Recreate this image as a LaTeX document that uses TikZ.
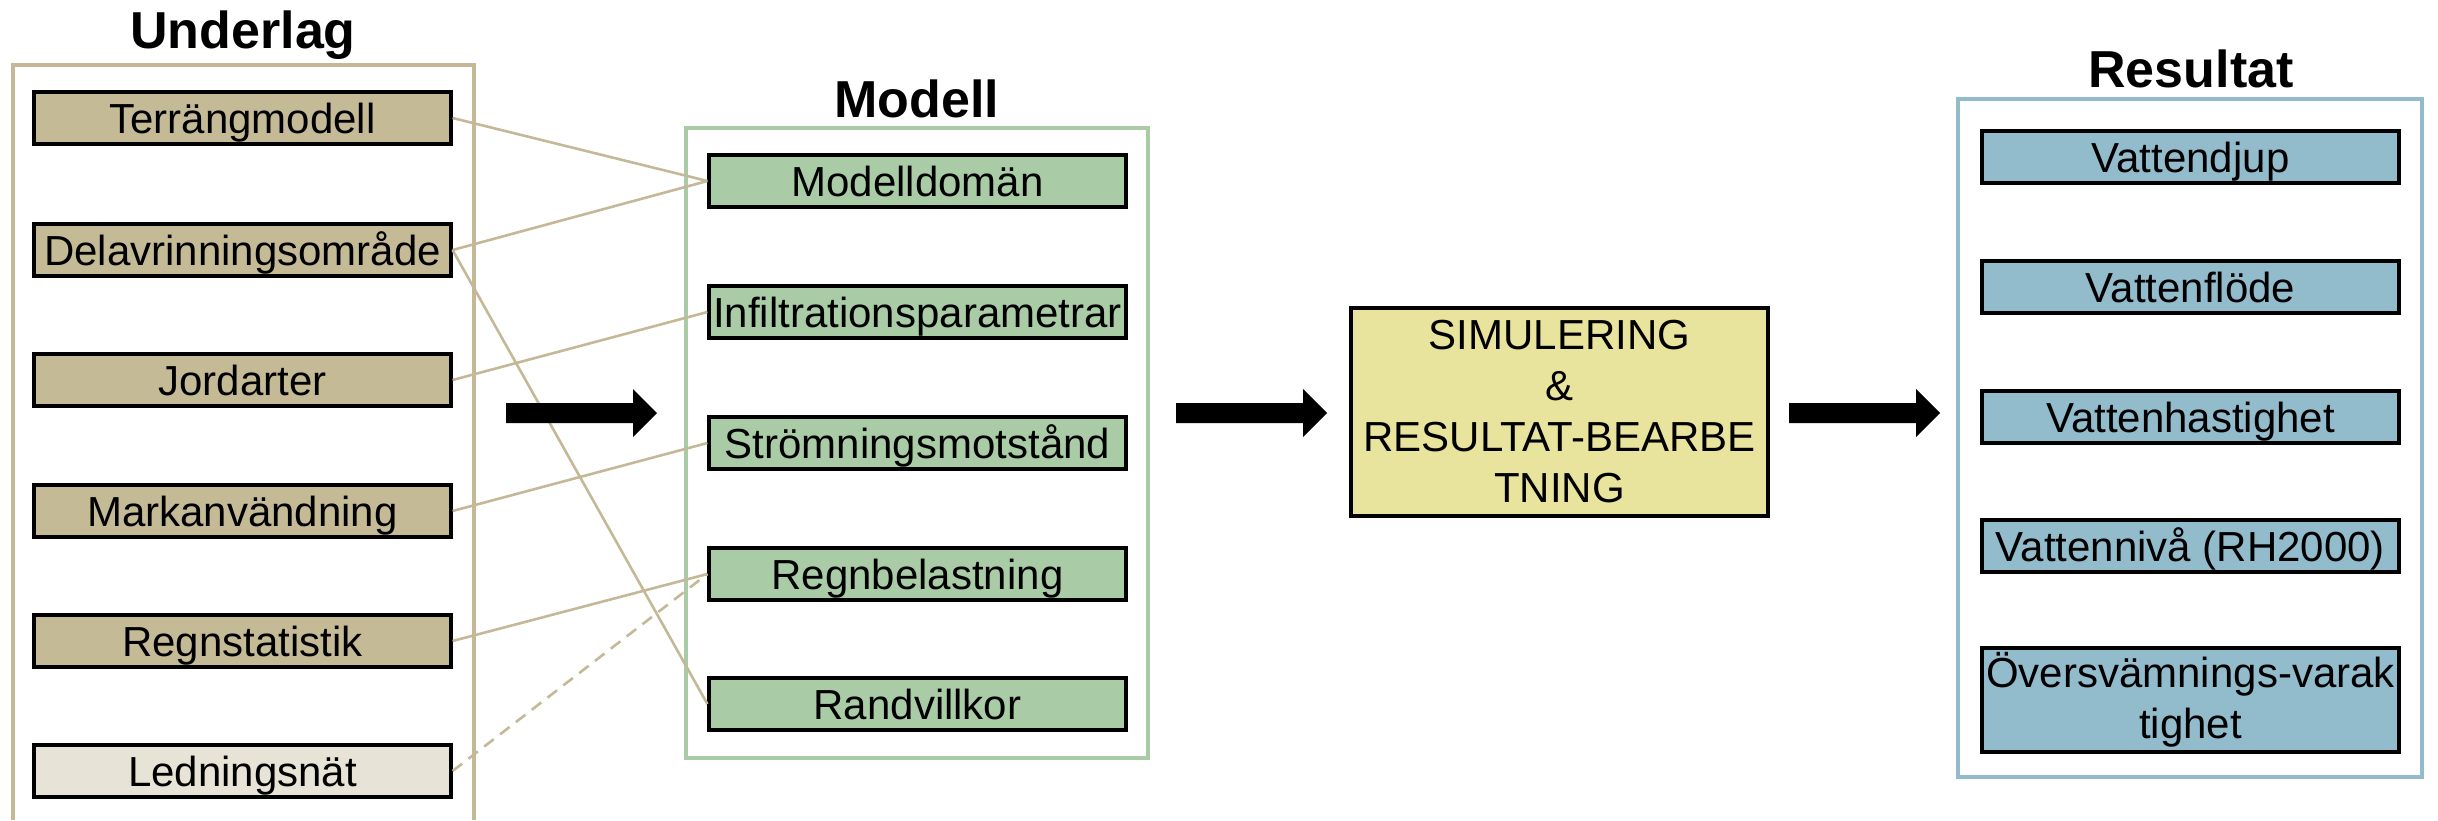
\documentclass[tikz,border=0pt]{standalone}
\usepackage{fontspec}
\setmainfont{Liberation Sans}
\definecolor{tanfill}{HTML}{C4BA96}
\definecolor{tanline}{HTML}{C4B896}
\definecolor{lightfill}{HTML}{E7E3D6}
\definecolor{greenfill}{HTML}{A9CCA6}
\definecolor{yellowfill}{HTML}{E8E39D}
\definecolor{bluefill}{HTML}{92BBCB}
\begin{document}
\begin{tikzpicture}[x=0.5pt,y=-0.5pt,
  boxbase/.style={draw=black, line width=1.6pt, minimum width=208.5pt, inner sep=0pt,
    font=\fontsize{21}{25.5}\selectfont, align=center},
  onebox/.style={boxbase, minimum height=26pt, text height=15.04pt, text depth=0pt},
  tanbox/.style={onebox, fill=tanfill},
  ledbox/.style={onebox, fill=lightfill},
  greenbox/.style={onebox, fill=greenfill},
  bluebox/.style={onebox, fill=bluefill},
  title/.style={font=\fontsize{26}{30}\selectfont\bfseries, anchor=base, inner sep=0pt},
  frame/.style={line width=1.8pt},
  conn/.style={draw=tanline, line width=1.3pt},
  blockarrow/.style={fill=black}
]
\useasboundingbox (0,0) rectangle (2438,820);

% ---- Underlag ----
\node[title] (tu) at (243,48) {Underlag};
\draw[frame, draw=tanline] (13,820) -- (13,65) -- (474,65) -- (474,820);
\node[tanbox] (u1) at (242.5,118) {Terrängmodell};
\node[tanbox] (u2) at (242.5,250) {Delavrinningsområde};
\node[tanbox] (u3) at (242.5,380) {Jordarter};
\node[tanbox] (u4) at (242.5,511) {Markanvändning};
\node[tanbox] (u5) at (242.5,641) {Regnstatistik};
\node[ledbox] (u6) at (242.5,771) {Ledningsnät};

% ---- Modell ----
\node[title] (tm) at (917,117) {Modell};
\node[draw=greenfill, frame, minimum width=231pt, minimum height=315pt, inner sep=0pt] (mframe) at (917,443) {};
\node[greenbox] (m1) at (917.5,181) {Modelldomän};
\node[greenbox] (m2) at (917.5,312) {Infiltrationsparametrar};
\node[greenbox] (m3) at (917.5,443) {Strömningsmotstånd};
\node[greenbox] (m4) at (917.5,574) {Regnbelastning};
\node[greenbox] (m5) at (917.5,704) {Randvillkor};

% ---- connectors ----
\draw[conn] (u1.east) -- (m1.west);
\draw[conn] (u2.east) -- (m1.west);
\draw[conn] (u2.east) -- (m5.west);
\draw[conn] (u3.east) -- (m2.west);
\draw[conn] (u4.east) -- (m3.west);
\draw[conn] (u5.east) -- (m4.west);
\draw[conn, dash pattern=on 6pt off 4pt] (u6.east) -- (m4.west);

% ---- Simulering ----
\node[boxbase, fill=yellowfill, minimum height=104pt] (sim) at (1559.5,412)
  {SIMULERING\\\&\\RESULTAT-BEARBE\\TNING};

% ---- Resultat ----
\node[title] (tr) at (2191,87) {Resultat};
\node[draw=bluefill, frame, minimum width=232pt, minimum height=339pt, inner sep=0pt] (rframe) at (2190,438) {};
\node[bluebox] (r1) at (2190.5,157) {Vattendjup};
\node[bluebox] (r2) at (2190.5,287) {Vattenflöde};
\node[bluebox] (r3) at (2190.5,417) {Vattenhastighet};
\node[bluebox] (r4) at (2190.5,546) {Vattennivå (RH2000)};
\node[boxbase, fill=bluefill, minimum height=52pt] (r5) at (2190.5,700) {Översvämnings-varak\\tighet};

% ---- block arrows ----
\fill[blockarrow] (506,403) -- (633,403) -- (633,389) -- (657,413) -- (633,437) -- (633,423) -- (506,423) -- cycle;
\fill[blockarrow] (1176,403) -- (1303,403) -- (1303,389) -- (1327,413) -- (1303,437) -- (1303,423) -- (1176,423) -- cycle;
\fill[blockarrow] (1789,403) -- (1916,403) -- (1916,389) -- (1940,413) -- (1916,437) -- (1916,423) -- (1789,423) -- cycle;
\end{tikzpicture}
\end{document}
